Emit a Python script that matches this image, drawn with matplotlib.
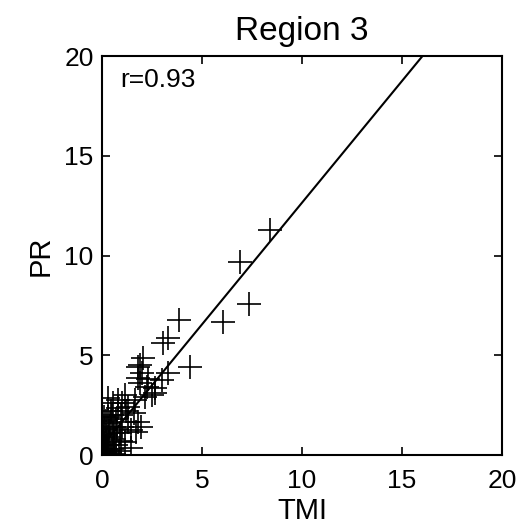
import numpy as np
import matplotlib
matplotlib.use("Agg")
import matplotlib.pyplot as plt

plt.rcParams['font.family'] = ['Liberation Sans', 'DejaVu Sans']

# rain estimates, TMI vs PR
tmi = [8.4, 6.9, 7.35, 6.05, 4.4, 3.85, 3.05, 3.3, 2.05, 1.8, 2.0, 3.3, 3.0,
       2.65, 2.25, 1.9, 2.5, 1.15, 0.8, 1.9, 1.8, 2.3, 2.15, 1.65, 0.55, 2.65,
       0.3, 1.8, 1.95, 1.7, 1.45, 1.3, 0.95, 0.8, 1.45, 1.15, 1.0, 1.2, 0.9,
       0.7, 0.6, 0.5, 0.4, 0.35, 0.3, 0.25, 0.2, 0.15, 0.1, 0.05, 0.1, 0.2,
       0.3, 0.45, 0.6, 0.7, 0.5, 0.4, 0.3, 0.15, 0.05, 0.08, 0.12, 0.2, 0.55,
       0.75, 0.85, 0.6, 0.95, 0.25, 0.02, 0.1, 1.0, 1.3, 1.6]
pr = [11.3, 9.7, 7.6, 6.7, 4.4, 6.8, 5.65, 5.9, 4.85, 4.4, 4.1, 4.1, 3.75,
      3.35, 3.4, 3.6, 3.0, 3.0, 2.75, 4.5, 3.85, 3.8, 2.9, 2.75, 2.6, 3.1,
      2.85, 1.65, 1.4, 1.15, 1.25, 1.65, 2.0, 2.35, 0.35, 0.65, 1.4, 2.2, 1.1,
      1.8, 1.4, 2.0, 1.6, 1.2, 0.9, 0.5, 0.3, 0.1, 0.05, 0.2, 0.6, 1.0,
      1.9, 2.2, 0.8, 0.5, 0.3, 0.1, 0.2, 0.4, 0.5, 0.9, 1.3, 1.7, 1.1,
      1.3, 0.2, 0.05, 0.7, 0.0, 0.0, 1.9, 2.6, 2.4, 2.1]

fit_slope = 1.22
fit_intercept = 0.45
r_value = 0.93

fig = plt.figure(figsize=(5.25, 5.3), dpi=100)
ax = fig.add_axes([0.194, 0.141, 0.762, 0.753])

ax.plot(tmi, pr, '+', color='black', markersize=17, markeredgewidth=1.2)
xfit = np.array([0, 20])
ax.plot(xfit, fit_slope * xfit + fit_intercept, color='black', lw=1.5)

ax.set_xlim(0, 20)
ax.set_ylim(0, 20)
ax.set_xticks([0, 5, 10, 15, 20])
ax.set_yticks([0, 5, 10, 15, 20])
ax.tick_params(direction='in', length=6, width=1.2, labelsize=19,
               top=True, right=True)
ax.tick_params(axis='x', pad=10)
ax.tick_params(axis='y', pad=6)
for s in ax.spines.values():
    s.set_linewidth(1.5)

ax.text(0.045, 0.94, 'r=%.2f' % r_value, transform=ax.transAxes,
        fontsize=19, va='center', ha='left')
ax.set_title('Region 3', fontsize=24, pad=12)
ax.set_xlabel('TMI', fontsize=21, labelpad=3)
ax.set_ylabel('PR', fontsize=21, labelpad=7)

fig.savefig('out.png', dpi=100)
